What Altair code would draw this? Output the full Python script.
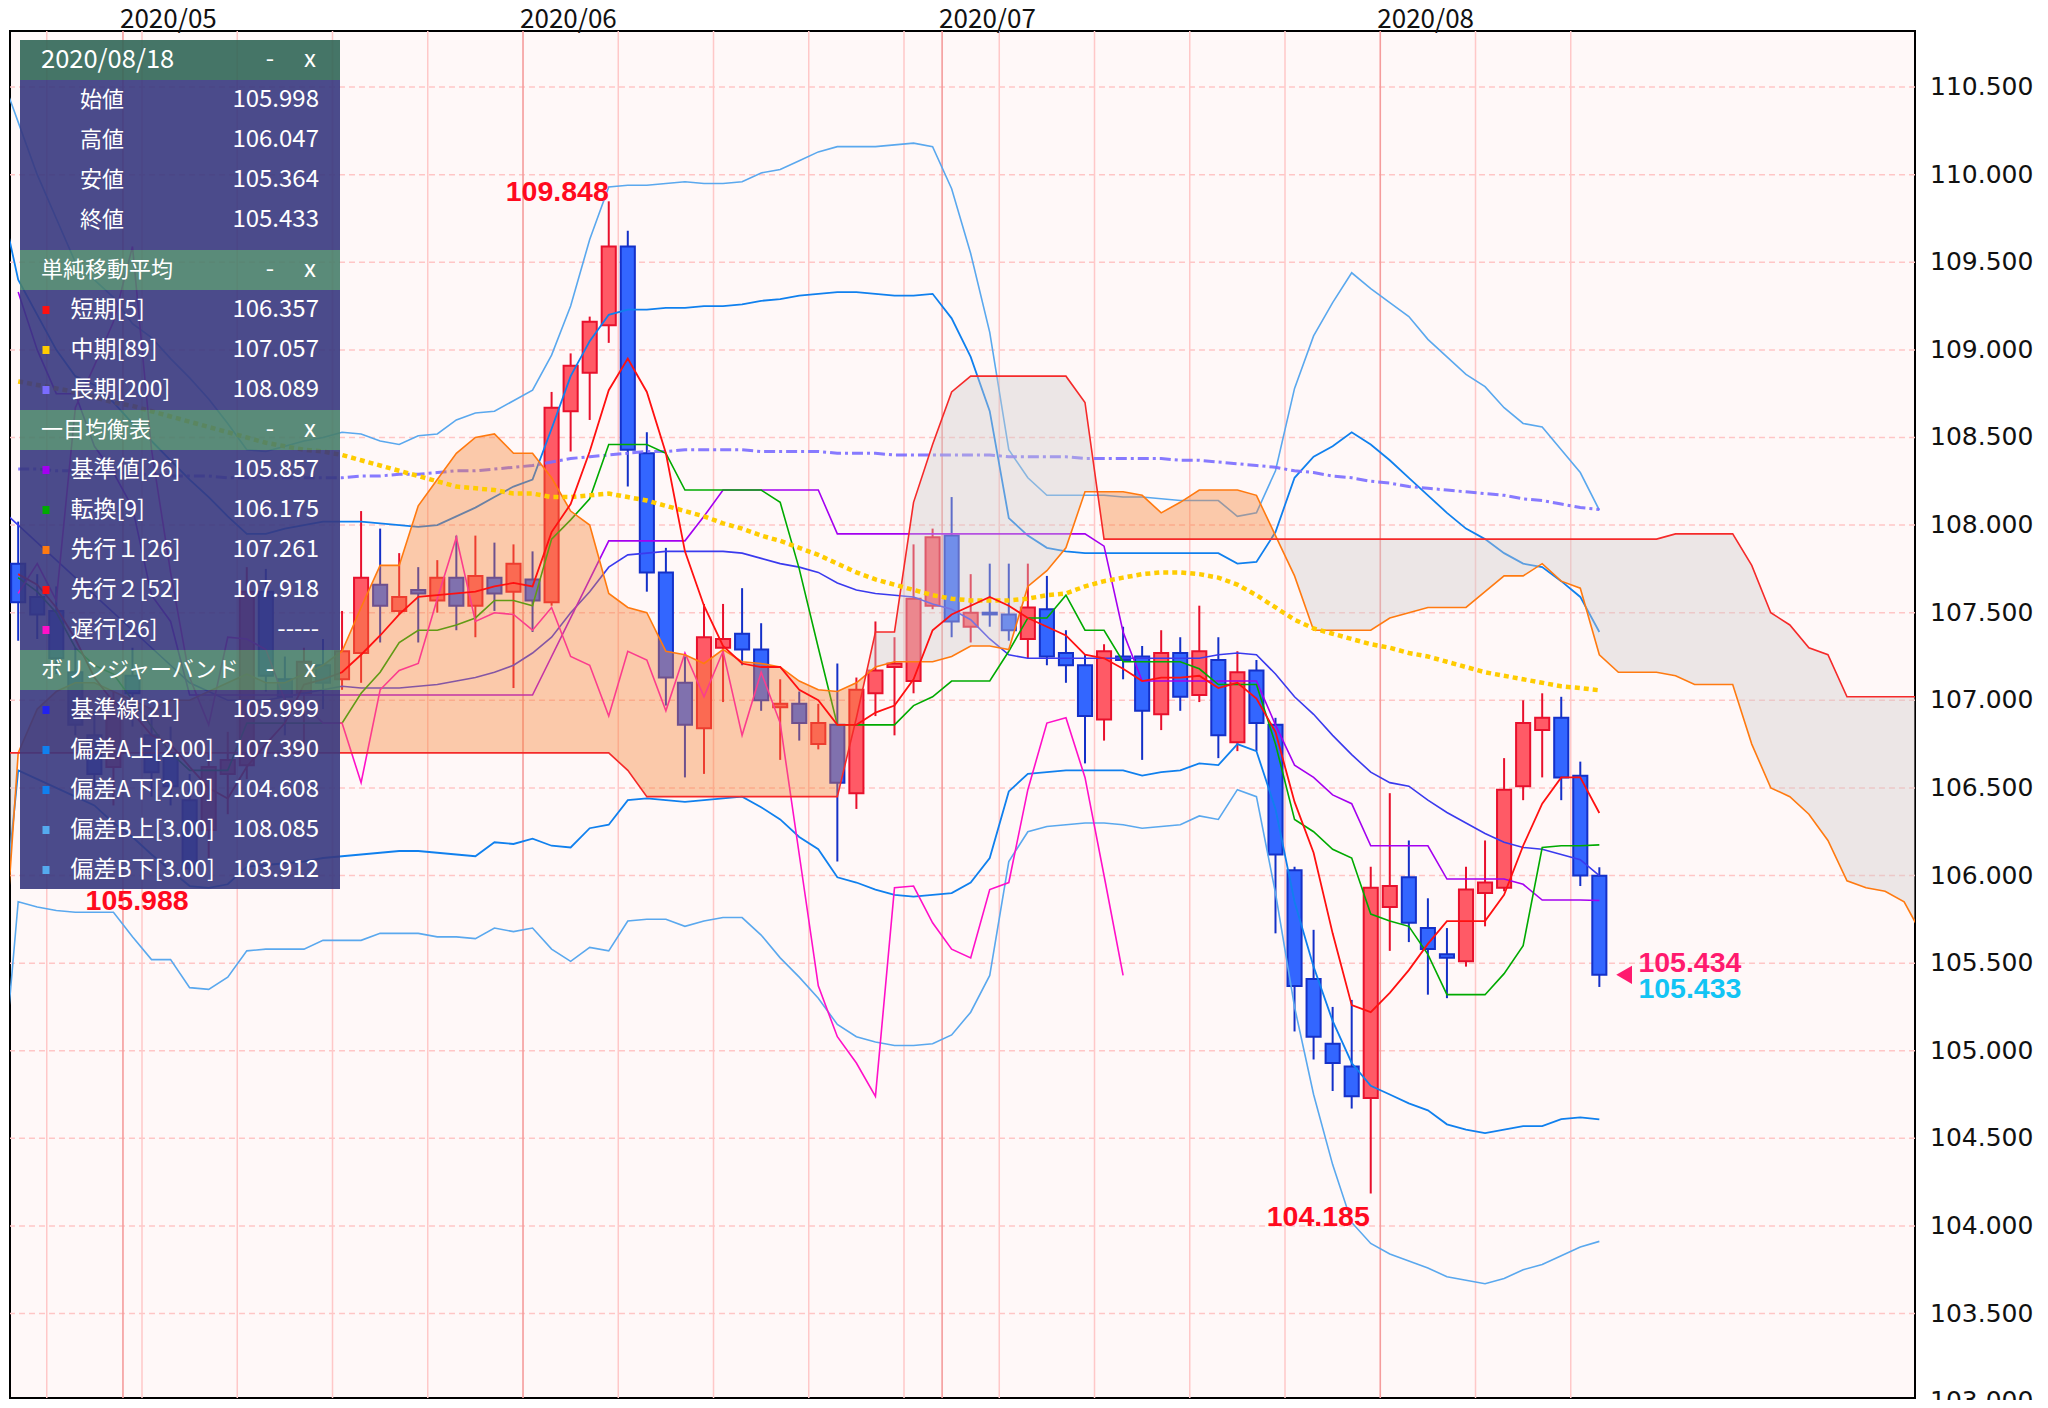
import altair as alt
import pandas as pd

# ---------------- data ----------------
IDX = list(range(-27, 57))          # trading-day index, 0 = 2020/06/01
OPEN = [107.78, 107.59, 107.51, 107.16, 106.80, 106.62, 107.14, 106.80, 106.69, 106.43,
        106.26, 106.58, 106.63, 107.62, 107.12, 107.04, 107.20, 107.12, 107.27, 107.66,
        107.51, 107.63, 107.57, 107.70, 107.54, 107.70, 107.62, 107.69, 107.56, 108.65,
        108.87, 109.14, 109.59, 108.41, 107.73, 107.10, 106.84, 107.30, 107.38, 107.29,
        106.96, 106.98, 106.75, 106.86, 106.47, 107.04, 107.19, 107.11, 107.54, 107.94,
        107.42, 107.50, 107.49, 107.35, 107.52, 107.27, 107.20, 106.89, 107.25, 107.25,
        106.92, 107.27, 107.03, 107.23, 106.76, 107.17, 106.86, 106.03, 105.41, 105.04,
        104.91, 104.73, 105.82, 105.99, 105.70, 105.55, 105.51, 105.90, 105.93, 106.51,
        106.83, 106.90, 106.57, 105.998]
HIGH = [108.02, 107.72, 107.65, 107.30, 106.95, 107.05, 107.30, 106.95, 106.85, 106.58,
        106.70, 106.82, 107.76, 107.75, 107.25, 107.30, 107.35, 107.51, 108.08, 107.98,
        107.84, 107.76, 107.80, 107.94, 107.94, 107.90, 107.89, 107.85, 108.76, 108.98,
        109.19, 109.848, 109.68, 108.53, 107.87, 107.25, 107.55, 107.55, 107.64, 107.44,
        107.12, 107.05, 106.98, 107.21, 107.13, 107.45, 107.36, 107.89, 107.98, 108.16,
        107.72, 107.78, 107.78, 107.78, 107.71, 107.40, 107.26, 107.32, 107.42, 107.31,
        107.40, 107.36, 107.54, 107.36, 107.28, 107.23, 106.90, 106.05, 105.69, 105.25,
        105.29, 106.05, 106.47, 106.20, 105.87, 105.70, 106.05, 106.20, 106.67, 107.00,
        107.04, 107.02, 106.65, 106.047]
LOW = [107.34, 107.35, 107.15, 106.80, 106.50, 106.40, 106.85, 106.45, 106.40, 105.988,
       106.10, 106.35, 106.55, 107.05, 106.80, 106.75, 106.95, 107.06, 107.10, 107.33,
       107.49, 107.33, 107.50, 107.40, 107.36, 107.51, 107.07, 107.39, 107.54, 108.42,
       108.60, 109.04, 108.22, 107.62, 106.97, 106.56, 106.58, 106.99, 107.20, 106.94,
       106.66, 106.77, 106.72, 106.08, 106.38, 106.91, 106.80, 107.04, 107.52, 107.36,
       107.33, 107.42, 107.34, 107.24, 107.20, 107.10, 106.64, 106.77, 107.12, 106.66,
       106.83, 106.94, 106.99, 106.67, 106.71, 106.71, 105.67, 105.11, 104.95, 104.77,
       104.67, 104.185, 105.57, 105.62, 105.32, 105.30, 105.48, 105.71, 105.91, 106.43,
       106.56, 106.43, 105.94, 105.364]
CLOSE = [107.56, 107.49, 107.24, 106.86, 106.58, 106.92, 107.04, 106.59, 106.51, 106.04,
         106.62, 106.66, 107.62, 107.14, 107.02, 107.22, 107.10, 107.28, 107.70, 107.54,
         107.59, 107.61, 107.70, 107.54, 107.71, 107.61, 107.78, 107.57, 108.67, 108.91,
         109.16, 109.59, 108.43, 107.73, 107.13, 106.86, 107.36, 107.35, 107.29, 107.00,
         106.98, 106.87, 106.87, 106.53, 107.06, 107.17, 107.21, 107.58, 107.93, 107.45,
         107.50, 107.49, 107.40, 107.53, 107.25, 107.20, 106.91, 107.28, 107.23, 106.94,
         107.27, 107.02, 107.28, 106.80, 107.16, 106.87, 106.12, 105.37, 105.08, 104.93,
         104.74, 105.93, 105.94, 105.73, 105.58, 105.53, 105.92, 105.96, 106.49, 106.87,
         106.90, 106.56, 106.00, 105.433]

SMA5 = [107.72, 107.66, 107.53, 107.35, 107.13, 106.99, 106.93, 106.80, 106.75, 106.62,
        106.50, 106.44, 106.62, 106.75, 106.87, 107.09, 107.12, 107.16, 107.26, 107.37,
        107.49, 107.59, 107.60, 107.61, 107.62, 107.65, 107.67, 107.65, 107.96, 108.12,
        108.42, 108.77, 108.95, 108.76, 108.41, 107.85, 107.54, 107.31, 107.21, 107.19,
        107.19, 107.06, 107.00, 106.86, 106.86, 106.93, 106.97, 107.12, 107.40, 107.49,
        107.54, 107.59, 107.54, 107.47, 107.42, 107.37, 107.26, 107.24, 107.18, 107.11,
        107.13, 107.13, 107.14, 107.07, 107.10, 107.01, 106.82, 106.42, 106.13, 105.67,
        105.26, 105.22, 105.33, 105.46, 105.61, 105.74, 105.74, 105.74, 105.89, 106.17,
        106.41, 106.56, 106.56, 106.357]
SMA89 = [108.82, 108.80, 108.78, 108.76, 108.73, 108.70, 108.68, 108.65, 108.62, 108.59,
         108.56, 108.53, 108.50, 108.47, 108.45, 108.43, 108.42, 108.40, 108.37, 108.34,
         108.31, 108.28, 108.25, 108.22, 108.21, 108.20, 108.18, 108.18, 108.16, 108.16,
         108.17, 108.18, 108.16, 108.14, 108.11, 108.08, 108.05, 108.01, 107.98, 107.94,
         107.91, 107.87, 107.83, 107.78, 107.73, 107.69, 107.66, 107.63, 107.60, 107.58,
         107.57, 107.57, 107.57, 107.58, 107.60, 107.61, 107.65, 107.68, 107.70, 107.72,
         107.73, 107.73, 107.72, 107.70, 107.66, 107.60, 107.53, 107.46, 107.41, 107.38,
         107.35, 107.32, 107.30, 107.27, 107.25, 107.22, 107.19, 107.16, 107.14, 107.12,
         107.10, 107.08, 107.07, 107.057]
SMA200 = [108.32, 108.32, 108.31, 108.31, 108.30, 108.30, 108.29, 108.29, 108.28, 108.28,
          108.28, 108.27, 108.27, 108.27, 108.27, 108.27, 108.27, 108.27, 108.28, 108.28,
          108.29, 108.29, 108.30, 108.31, 108.31, 108.32, 108.33, 108.34, 108.36, 108.38,
          108.39, 108.40, 108.41, 108.42, 108.42, 108.43, 108.43, 108.43, 108.43, 108.42,
          108.42, 108.42, 108.42, 108.41, 108.41, 108.41, 108.40, 108.40, 108.40, 108.40,
          108.40, 108.40, 108.39, 108.39, 108.39, 108.39, 108.38, 108.38, 108.38, 108.38,
          108.38, 108.37, 108.37, 108.36, 108.35, 108.34, 108.33, 108.31, 108.30, 108.28,
          108.27, 108.25, 108.24, 108.22, 108.21, 108.20, 108.19, 108.18, 108.17, 108.15,
          108.14, 108.12, 108.10, 108.089]
TENKAN = [107.70, 107.62, 107.50, 107.30, 107.20, 107.15, 107.00, 106.85, 106.70, 106.60,
          106.60, 106.60, 106.87, 106.87, 106.87, 106.87, 106.87, 106.87, 107.04, 107.16,
          107.33, 107.40, 107.40, 107.43, 107.47, 107.57, 107.57, 107.54, 107.92, 108.03,
          108.15, 108.46, 108.46, 108.46, 108.41, 108.20, 108.20, 108.20, 108.20, 108.20,
          108.13, 107.75, 107.30, 106.86, 106.86, 106.86, 106.86, 106.97, 107.02, 107.11,
          107.11, 107.11, 107.28, 107.47, 107.47, 107.60, 107.40, 107.40, 107.22, 107.22,
          107.22, 107.22, 107.18, 107.09, 107.09, 107.09, 106.75, 106.32, 106.25, 106.15,
          106.10, 105.78, 105.74, 105.71, 105.55, 105.32, 105.32, 105.32, 105.44, 105.60,
          106.16, 106.17, 106.17, 106.175]
KIJUN = [109.33, 109.00, 108.75, 108.75, 108.45, 108.30, 108.10, 107.60, 107.45, 107.03,
         107.03, 107.03, 107.03, 107.03, 107.03, 107.03, 107.03, 107.03, 107.03, 107.03,
         107.03, 107.03, 107.03, 107.03, 107.03, 107.03, 107.03, 107.03, 107.25, 107.47,
         107.69, 107.91, 107.91, 107.91, 107.91, 107.91, 108.05, 108.20, 108.20, 108.20,
         108.20, 108.20, 108.20, 107.95, 107.95, 107.95, 107.95, 107.95, 107.95, 107.95,
         107.95, 107.95, 107.95, 107.95, 107.95, 107.95, 107.95, 107.88, 107.39, 107.11,
         107.11, 107.11, 107.11, 107.11, 107.11, 107.11, 106.86, 106.63, 106.56, 106.46,
         106.41, 106.17, 106.17, 106.17, 106.17, 105.98, 105.98, 105.98, 105.98, 105.95,
         105.86, 105.86, 105.86, 105.857]

BB_IDX = list(range(-28, 57))
BB_MID = [108.10,
          108.00, 107.90, 107.80, 107.70, 107.60, 107.50, 107.40, 107.30, 107.20, 107.10,
          107.05, 107.00, 107.00, 107.00, 107.02, 107.04, 107.06, 107.08, 107.07, 107.07,
          107.07, 107.08, 107.09, 107.11, 107.13, 107.16, 107.20, 107.27, 107.36, 107.50,
          107.62, 107.76, 107.83, 107.84, 107.85, 107.85, 107.85, 107.85, 107.84, 107.81,
          107.78, 107.76, 107.73, 107.67, 107.63, 107.61, 107.60, 107.59, 107.55, 107.52,
          107.46, 107.35, 107.26, 107.24, 107.24, 107.24, 107.24, 107.24, 107.24, 107.24,
          107.24, 107.24, 107.24, 107.26, 107.27, 107.26, 107.15, 107.02, 106.92, 106.80,
          106.69, 106.59, 106.53, 106.51, 106.43, 106.36, 106.30, 106.24, 106.19, 106.16,
          106.15, 106.12, 106.09, 105.999]
BB_UP2 = [109.90,
          109.40, 109.20, 109.00, 108.85, 108.80, 108.70, 108.58, 108.48, 108.37, 108.26,
          108.16, 108.05, 107.95, 107.95, 107.98, 108.00, 108.02, 108.02, 108.02, 108.01,
          108.00, 107.99, 108.00, 108.05, 108.10, 108.16, 108.22, 108.26, 108.55, 108.85,
          109.05, 109.20, 109.23, 109.23, 109.24, 109.24, 109.25, 109.25, 109.26, 109.28,
          109.29, 109.31, 109.32, 109.33, 109.33, 109.32, 109.31, 109.31, 109.32, 109.18,
          108.96, 108.65, 108.04, 107.94, 107.87, 107.85, 107.84, 107.84, 107.84, 107.84,
          107.84, 107.84, 107.84, 107.84, 107.78, 107.79, 107.96, 108.27, 108.39, 108.45,
          108.53, 108.46, 108.37, 108.27, 108.17, 108.07, 107.98, 107.92, 107.84, 107.78,
          107.76, 107.68, 107.59, 107.390]
BB_UP3 = [110.60,
          110.30, 110.00, 109.75, 109.50, 109.40, 109.30, 109.15, 109.07, 108.95, 108.84,
          108.72, 108.58, 108.43, 108.42, 108.45, 108.48, 108.50, 108.53, 108.52, 108.48,
          108.46, 108.51, 108.52, 108.60, 108.64, 108.65, 108.71, 108.77, 108.97, 109.25,
          109.63, 109.93, 109.94, 109.94, 109.95, 109.96, 109.95, 109.95, 109.96, 110.01,
          110.03, 110.08, 110.13, 110.16, 110.16, 110.16, 110.17, 110.18, 110.16, 109.92,
          109.55, 109.10, 108.43, 108.27, 108.17, 108.17, 108.17, 108.17, 108.16, 108.16,
          108.15, 108.14, 108.14, 108.14, 108.05, 108.07, 108.31, 108.78, 109.08, 109.27,
          109.44, 109.35, 109.27, 109.19, 109.06, 108.96, 108.86, 108.79, 108.67, 108.58,
          108.56, 108.43, 108.30, 108.085]
BB_LO2 = [105.50,
          106.60, 106.55, 106.50, 106.45, 106.40, 106.30, 106.22, 106.12, 106.03, 105.94,
          105.93, 105.95, 106.05, 106.06, 106.07, 106.08, 106.10, 106.11, 106.12, 106.13,
          106.14, 106.14, 106.13, 106.12, 106.11, 106.19, 106.18, 106.21, 106.17, 106.16,
          106.27, 106.29, 106.43, 106.44, 106.43, 106.42, 106.43, 106.44, 106.45, 106.39,
          106.32, 106.22, 106.15, 105.99, 105.96, 105.92, 105.89, 105.88, 105.89, 105.90,
          105.96, 106.10, 106.48, 106.58, 106.59, 106.60, 106.60, 106.60, 106.60, 106.57,
          106.59, 106.60, 106.64, 106.63, 106.75, 106.71, 106.38, 105.85, 105.48, 105.17,
          104.93, 104.80, 104.75, 104.70, 104.66, 104.58, 104.55, 104.53, 104.55, 104.57,
          104.57, 104.61, 104.62, 104.608]
BB_LO3 = [104.60,
          105.85, 105.82, 105.80, 105.79, 105.79, 105.79, 105.65, 105.52, 105.52, 105.36,
          105.35, 105.42, 105.57, 105.58, 105.58, 105.58, 105.63, 105.63, 105.63, 105.67,
          105.67, 105.67, 105.65, 105.65, 105.64, 105.70, 105.68, 105.70, 105.58, 105.51,
          105.59, 105.57, 105.74, 105.75, 105.75, 105.71, 105.74, 105.76, 105.76, 105.66,
          105.53, 105.42, 105.30, 105.15, 105.08, 105.05, 105.03, 105.03, 105.04, 105.09,
          105.22, 105.43, 106.08, 106.25, 106.28, 106.29, 106.30, 106.30, 106.29, 106.27,
          106.28, 106.29, 106.34, 106.32, 106.49, 106.45, 105.90, 105.25, 104.75, 104.35,
          104.02, 103.90, 103.84, 103.80, 103.76, 103.71, 103.69, 103.67, 103.70, 103.75,
          103.78, 103.83, 103.88, 103.912]

CHIKOU_IDX = list(range(-27, 32))
CHIKOU = [107.61, 107.78, 107.57, 108.67, 108.91, 109.16, 109.59, 108.43, 107.73, 107.13,
          106.86, 107.36, 107.35, 107.29, 107.00, 106.98, 106.87, 106.87, 106.53, 107.06,
          107.17, 107.21, 107.58, 107.93, 107.45, 107.50, 107.49, 107.40, 107.53, 107.25,
          107.20, 106.91, 107.28, 107.23, 106.94, 107.27, 107.02, 107.28, 106.80, 107.16,
          106.87, 106.12, 105.37, 105.08, 104.93, 104.74, 105.93, 105.94, 105.73, 105.58,
          105.53, 105.92, 105.96, 106.49, 106.87, 106.90, 106.56, 106.00, 105.43]

SPAN_IDX = list(range(-28, 74))
SPAN1 = [105.10, 106.70, 106.95, 107.05, 107.10, 107.10, 107.05, 107.00, 106.95, 107.00,
         107.00, 107.05, 107.10, 107.15, 107.10, 107.10, 107.15, 107.20, 107.28, 107.53,
         107.77, 107.77, 108.11, 108.26, 108.41, 108.50, 108.52, 108.41, 108.41, 108.27,
         108.08, 108.00, 107.61, 107.53, 107.50, 107.28, 107.26, 107.21, 107.29, 107.22,
         107.21, 107.19, 107.11, 107.06, 107.05, 107.10, 107.19, 107.22, 107.22, 107.22,
         107.25, 107.31, 107.31, 107.29, 107.65, 107.74, 107.87, 108.19, 108.19, 108.19,
         108.17, 108.07, 108.13, 108.20, 108.20, 108.20, 108.17, 107.94, 107.71, 107.40,
         107.40, 107.40, 107.40, 107.47, 107.50, 107.53, 107.53, 107.53, 107.62, 107.71,
         107.71, 107.78, 107.68, 107.64, 107.26, 107.16, 107.16, 107.16, 107.14, 107.09,
         107.09, 107.09, 106.75, 106.50, 106.45, 106.35, 106.20, 105.97, 105.93, 105.91,
         105.85, 105.65]
SPAN2 = ([106.70] * 33 + [106.60] + [106.45] * 11
         + [106.90, 107.39, 107.39, 108.13, 108.46, 108.76] + [108.85] * 6 + [108.70]
         + [107.92] * 30 + [107.95] * 4
         + [107.77, 107.50, 107.43, 107.30, 107.26] + [107.02] * 5)

WEEK_LINES = [-25.5, -20.5, -15.5, -10.5, -5.5, 4.5, 9.5, 14.5, 19.5, 24.5,
              29.5, 34.5, 39.5, 49.5, 54.5]
MONTH_LINES = [-21.5, -0.5, 21.5, 44.5]
MONTH_LABELS = ["2020/05", "2020/06", "2020/07", "2020/08"]
Y_TICKS = [103.0, 103.5, 104.0, 104.5, 105.0, 105.5, 106.0, 106.5, 107.0, 107.5,
           108.0, 108.5, 109.0, 109.5, 110.0, 110.5]
Y_TICK_LABELS = ["103.000", "103.500", "104.000", "104.500", "105.000", "105.500",
                 "106.000", "106.500", "107.000", "107.500", "108.000", "108.500",
                 "109.000", "109.500", "110.000", "110.500"]

EXTREME_IDX = [4, 44, -18]
EXTREME_VAL = [109.848, 104.185, 105.988]
EXTREME_TXT = ["109.848", "104.185", "105.988"]
BID_TXT, ASK_TXT = "105.434", "105.433"

PANEL_HEADERS = ["2020/08/18", "単純移動平均", "一目均衡表", "ボリンジャーバンド"]
OHLC_LABELS = ["始値", "高値", "安値", "終値"]
OHLC_VALUES = ["105.998", "106.047", "105.364", "105.433"]
IND_LABELS = ["短期[5]", "中期[89]", "長期[200]",
              "基準値[26]", "転換[9]", "先行１[26]", "先行２[52]", "遅行[26]",
              "基準線[21]", "偏差A上[2.00]", "偏差A下[2.00]", "偏差B上[3.00]", "偏差B下[3.00]"]
IND_VALUES = ["106.357", "107.057", "108.089",
              "105.857", "106.175", "107.261", "107.918", "-----",
              "105.999", "107.390", "104.608", "108.085", "103.912"]
IND_COLORS = ["#ff1010", "#ffcc00", "#7a6cff",
              "#a400f0", "#00aa00", "#ff7a10", "#ff1010", "#ff10c8",
              "#2222ee", "#1080ee", "#1080ee", "#55aaee", "#55aaee"]

# ---------------- styling / layout ----------------
W, H = 1905, 1367
X_DOM = [-27.43, 72.57]
Y_DOM = [103.018, 110.820]
xsc = alt.Scale(domain=X_DOM, nice=False, zero=False)
ysc = alt.Scale(domain=Y_DOM, nice=False, zero=False)

RED_FILL, RED_EDGE = "#ff5a66", "#e8102c"
BLUE_FILL, BLUE_EDGE = "#3366ff", "#1430c8"
CJK = "Noto Sans CJK JP"


def X(f="i"):
    return alt.X(f"{f}:Q", scale=xsc, axis=None)


def Y(f="v"):
    return alt.Y(f"{f}:Q", scale=ysc, axis=None)


def line(idx, vals, color, width=1.6, dash=None, opacity=1.0):
    df = pd.DataFrame({"i": idx, "v": vals})
    kw = dict(color=color, strokeWidth=width, clip=True, opacity=opacity)
    if dash:
        kw["strokeDash"] = dash
    return alt.Chart(df).mark_line(**kw).encode(x=X(), y=Y())


layers = []

# horizontal dashed grid (drawn as rules) and right-hand price labels
tick_df = pd.DataFrame({"v": Y_TICKS, "t": Y_TICK_LABELS})
layers.append(alt.Chart(tick_df).mark_rule(
    color="#ffc6c6", strokeWidth=1.5, strokeDash=[6, 4], clip=True).encode(y=Y()))

layers.append(alt.Chart(pd.DataFrame({"x": WEEK_LINES})).mark_rule(
    color="#ffc8c8", strokeWidth=1.5).encode(x=X("x")))
layers.append(alt.Chart(pd.DataFrame({"x": MONTH_LINES})).mark_rule(
    color="#f59c9c", strokeWidth=1.6).encode(x=X("x")))

# candles
cdf = pd.DataFrame({"i": IDX, "o": OPEN, "h": HIGH, "l": LOW, "c": CLOSE})
up = "datum.c >= datum.o"
layers.append(alt.Chart(cdf).mark_rule(strokeWidth=2, clip=True).encode(
    x=X(), y=Y("l"), y2="h",
    color=alt.condition(up, alt.value(RED_EDGE), alt.value(BLUE_EDGE))))
layers.append(alt.Chart(cdf).transform_calculate(
    x0="datum.i - 0.37", x1="datum.i + 0.37").mark_rect(strokeWidth=2, clip=True).encode(
    x=X("x0"), x2="x1", y=Y("o"), y2="c",
    fill=alt.condition(up, alt.value(RED_FILL), alt.value(BLUE_FILL)),
    stroke=alt.condition(up, alt.value(RED_EDGE), alt.value(BLUE_EDGE))))

# Bollinger, MA200, Ichimoku lines (below the cloud)
layers.append(line(BB_IDX, BB_UP3, "#5aa8ee", 1.6))
layers.append(line(BB_IDX, BB_LO3, "#5aa8ee", 1.6))
layers.append(line(BB_IDX, BB_UP2, "#1080ee", 1.8))
layers.append(line(BB_IDX, BB_LO2, "#1080ee", 1.8))
layers.append(line(BB_IDX, BB_MID, "#3a3aee", 1.6))
layers.append(line(IDX, SMA200, "#7a6cff", 3, dash=[11, 4, 3, 4], opacity=0.9))
layers.append(line(IDX, KIJUN, "#a400f0", 1.6))
layers.append(line(IDX, TENKAN, "#00aa00", 1.6))
layers.append(line(CHIKOU_IDX, CHIKOU, "#ff10c8", 1.6))


# cloud fill (crossing points added only so the two fills meet cleanly)
def cloud_rows(idx, a, b):
    pts = []
    for k in range(len(idx)):
        pts.append((idx[k], a[k], b[k]))
        if k + 1 < len(idx):
            d0 = a[k] - b[k]
            d1 = a[k + 1] - b[k + 1]
            if d0 * d1 < 0:
                t = d0 / (d0 - d1)
                xc = idx[k] + t * (idx[k + 1] - idx[k])
                vc = a[k] + t * (a[k + 1] - a[k])
                pts.append((xc, vc, vc))
    return pd.DataFrame({
        "i": [p[0] for p in pts],
        "s2": [p[2] for p in pts],
        "top": [max(p[1], p[2]) for p in pts],
        "bot": [min(p[1], p[2]) for p in pts],
    })


cl = cloud_rows(SPAN_IDX, SPAN1, SPAN2)
layers.append(alt.Chart(cl).mark_area(color="#f58235", opacity=0.4, clip=True).encode(
    x=X(), y=Y("s2"), y2="top"))
layers.append(alt.Chart(cl).mark_area(color="#cfcaca", opacity=0.4, clip=True).encode(
    x=X(), y=Y("bot"), y2="s2"))

layers.append(line(SPAN_IDX, SPAN1, "#ff7a10", 1.6))
layers.append(line(SPAN_IDX, SPAN2, "#f52a2a", 1.6))
layers.append(line(IDX, SMA89, "#ffcc00", 4.5, dash=[5, 4]))
layers.append(line(IDX, SMA5, "#ff1010", 1.8))

# extreme labels
ext = pd.DataFrame({"i": EXTREME_IDX, "v": EXTREME_VAL, "t": EXTREME_TXT})
lab_kw = dict(font="Liberation Sans", fontWeight="bold", fontSize=28.5,
              color="#ff0a1e", align="right")
layers.append(alt.Chart(ext.iloc[[0]]).mark_text(baseline="alphabetic", **lab_kw)
              .encode(x=X(), y=Y(), text="t:N"))
layers.append(alt.Chart(ext.iloc[[1, 2]]).mark_text(baseline="alphabetic", dy=32, dx=-1, **lab_kw)
              .encode(x=X(), y=Y(), text="t:N"))

# current price marker
cur = pd.DataFrame({"i": [IDX[-1]], "v": [CLOSE[-1]], "b": [BID_TXT], "a": [ASK_TXT]})
layers.append(alt.Chart(cur).transform_calculate(xi="datum.i + 1.3").mark_point(
    shape="triangle-left", filled=True, size=330, color="#ff1a6e", opacity=1).encode(
    x=X("xi"), y=Y()))
layers.append(alt.Chart(cur).transform_calculate(xi="datum.i + 2.05").mark_text(
    font="Liberation Sans", fontWeight="bold", fontSize=28.5, color="#ff1a6e",
    align="left", baseline="alphabetic", dy=-3).encode(x=X("xi"), y=Y(), text="b:N"))
layers.append(alt.Chart(cur).transform_calculate(xi="datum.i + 2.05").mark_text(
    font="Liberation Sans", fontWeight="bold", fontSize=28.5, color="#12c4f4",
    align="left", baseline="alphabetic", dy=23).encode(x=X("xi"), y=Y(), text="a:N"))

# month labels on top (outside the plot)
mdf = pd.DataFrame({"x": MONTH_LINES, "t": MONTH_LABELS})
layers.append(alt.Chart(mdf).mark_text(
    font=CJK, fontSize=26, color="#111111", align="left", baseline="alphabetic",
    dx=-3).encode(x=X("x"), y=alt.value(-3), text="t:N"))

# price labels on the right (outside the plot)
layers.append(alt.Chart(tick_df).mark_text(
    font="DejaVu Sans", fontSize=25, color="#111111", align="left",
    baseline="middle").encode(x=alt.value(W + 15), y=Y(), text="t:N"))

# ---------------- info panel (pixel coordinates inside the plot) ----------------
PX0, PX1 = 10, 330
sections = [  # (y0, y1, color)
    (9, 49, "#316656"), (49, 219, "#37377e"),
    (219, 259, "#487e6a"), (259, 379, "#37377e"),
    (379, 419, "#487e6a"), (419, 619, "#37377e"),
    (619, 659, "#487e6a"), (659, 858, "#37377e"),
]
sdf = pd.DataFrame({"x0": [PX0] * len(sections), "x1": [PX1] * len(sections),
                    "y0": [s[0] for s in sections], "y1": [s[1] for s in sections],
                    "col": [s[2] for s in sections]})
layers.append(alt.Chart(sdf).mark_rect(opacity=0.9).encode(
    x=alt.X("x0:Q", scale=None, axis=None), x2="x1",
    y=alt.Y("y0:Q", scale=None, axis=None), y2="y1",
    fill=alt.Fill("col:N", scale=None)))


def ptext(df, xcol, tcol, align, size):
    return alt.Chart(df).mark_text(
        font=CJK, fontSize=size, color="#ffffff", baseline="middle", align=align).encode(
        x=alt.X(f"{xcol}:Q", scale=None, axis=None),
        y=alt.Y("y:Q", scale=None, axis=None), text=f"{tcol}:N")


head_y = [29, 239, 399, 639]
hdf = pd.DataFrame({"x": [31] * 4, "y": head_y, "t": PANEL_HEADERS})
layers.append(ptext(hdf.iloc[[0]], "x", "t", "left", 25.5))
layers.append(ptext(hdf.iloc[[1, 2, 3]], "x", "t", "left", 22))
ctl = pd.DataFrame({"x": [260, 300] * 4, "y": [h for h in head_y for _ in range(2)],
                    "t": ["-", "x"] * 4})
layers.append(ptext(ctl, "x", "t", "center", 24))

ohlc_y = [69, 109, 149, 189]
odf = pd.DataFrame({"x": [70] * 4, "xv": [309] * 4, "y": ohlc_y,
                    "t": OHLC_LABELS, "v": OHLC_VALUES})
layers.append(ptext(odf, "x", "t", "left", 22))
layers.append(ptext(odf, "xv", "v", "right", 24))

ind_y = [279, 319, 359, 439, 479, 519, 559, 599, 679, 719, 759, 799, 839]
idf = pd.DataFrame({"x": [60.5] * 13, "xv": [309] * 13, "xs0": [32.5] * 13, "xs1": [39.5] * 13,
                    "y": ind_y, "ys0": [y - 4 for y in ind_y], "ys1": [y + 4 for y in ind_y],
                    "t": IND_LABELS, "v": IND_VALUES, "col": IND_COLORS})
layers.append(alt.Chart(idf).mark_rect().encode(
    x=alt.X("xs0:Q", scale=None, axis=None), x2="xs1",
    y=alt.Y("ys0:Q", scale=None, axis=None), y2="ys1",
    fill=alt.Fill("col:N", scale=None)))
layers.append(ptext(idf, "x", "t", "left", 23))
layers.append(ptext(idf, "xv", "v", "right", 24))

chart = alt.layer(*layers).properties(
    width=W, height=H,
    autosize=alt.AutoSizeParams(type="none"),
    padding={"left": 2, "top": 23, "right": 118, "bottom": 2},
    background="#ffffff",
).configure_view(fill="#fff8f8", stroke="#000000", strokeWidth=2)

chart.save("out.html", embed_options={"renderer": "svg", "actions": False})
